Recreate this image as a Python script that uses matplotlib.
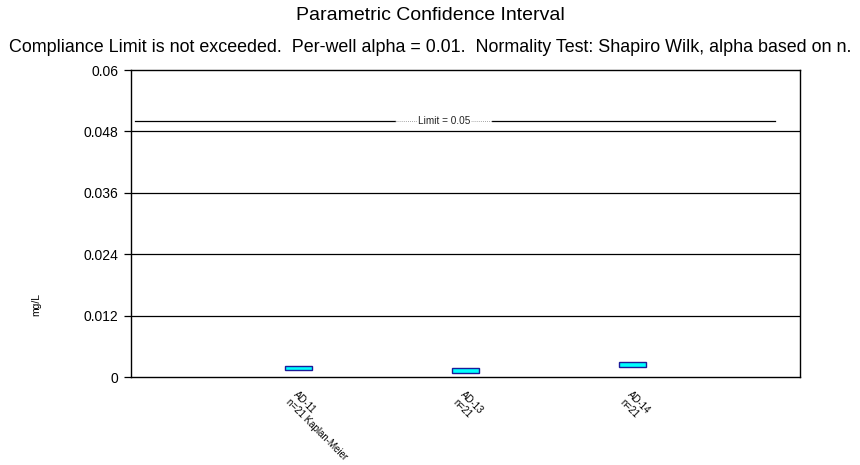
import matplotlib
matplotlib.use("Agg")
import matplotlib.pyplot as plt

wells = ["AD-11", "AD-13", "AD-14"]
notes = ["n=21 Kaplan-Meier", "n=21", "n=21"]
upper = [0.0022, 0.0017, 0.0029]
lower = [0.0014, 0.0008, 0.0020]
limit = 0.05
yticks = [0, 0.012, 0.024, 0.036, 0.048, 0.06]
ytick_labels = ["0", "0.012", "0.024", "0.036", "0.048", "0.06"]

plt.rcParams['font.family'] = ['Liberation Sans', 'DejaVu Sans']

fig = plt.figure(figsize=(8.6, 4.65), dpi=100)
ax = fig.add_axes([131/860, 1-377/465, 669/860, 307/465])

xs = list(range(1, len(wells) + 1))
ax.set_xlim(0, len(wells) + 1)
ax.set_ylim(0, 0.06)

for y in yticks[1:-1]:
    ax.axhline(y, color='black', lw=0.9, zorder=1)

heights = [u - l for u, l in zip(upper, lower)]
ax.bar(xs, heights, bottom=lower, width=0.16, color='#00FFFF',
       edgecolor='#1a1a9a', linewidth=1.0, zorder=3)

# limit line with label
ax.plot([0.024, 1.58], [limit, limit], color='black', lw=0.9, zorder=2)
ax.plot([2.16, 3.85], [limit, limit], color='black', lw=0.9, zorder=2)
ax.plot([1.58, 2.16], [limit, limit], color='#888888', lw=0.6, ls=(0, (1, 1.5)), zorder=2)
ax.text(1.87, limit, "Limit = " + str(limit), fontsize=7.2, ha='center', va='center',
        color='#222222', zorder=4,
        bbox=dict(facecolor='white', edgecolor='none', pad=0.5))

ax.set_yticks(yticks)
ax.set_yticklabels(ytick_labels, fontsize=10)
ax.tick_params(axis='y', direction='out', length=5, width=0.9, pad=4)

ax.set_xticks(xs)
ax.set_xticklabels([w + "\n" + n for w, n in zip(wells, notes)], rotation=-45,
                   rotation_mode='anchor', ha='left', va='top', fontsize=7,
                   linespacing=1.05)
ax.tick_params(axis='x', length=0, pad=9)

for s in ax.spines.values():
    s.set_linewidth(1.0)
    s.set_color('black')

fig.text(0.042, 1-305/465, "mg/L", rotation=90, fontsize=7.5, ha='center', va='center')
fig.text(0.5, 1-15/465, "Parametric Confidence Interval", fontsize=14, ha='center', va='center')
fig.text(0.5, 1-48/465, "Compliance Limit is not exceeded.  Per-well alpha = 0.01.  Normality Test: Shapiro Wilk, alpha based on n.",
         fontsize=12.9, ha='center', va='center')

fig.savefig("out.png", dpi=100)
